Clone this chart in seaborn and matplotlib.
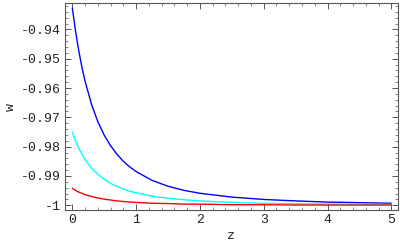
import matplotlib
matplotlib.use("Agg")
import matplotlib.pyplot as plt
import seaborn as sns
import pandas as pd
from matplotlib.ticker import MultipleLocator, FuncFormatter

z = [0, 0.05, 0.1, 0.15, 0.2, 0.3, 0.4, 0.5, 0.6, 0.7, 0.8, 0.9, 1.0, 1.25, 1.5, 1.75,
     2.0, 2.5, 3.0, 3.5, 4.0, 4.5, 5.0]
w_blue = [-0.9327, -0.9406, -0.9472, -0.9529, -0.9577, -0.9655, -0.9715, -0.9761, -0.9797,
          -0.9826, -0.9850, -0.9869, -0.9885, -0.9915, -0.9935, -0.9949, -0.9959, -0.9972,
          -0.9980, -0.9985, -0.9989, -0.9991, -0.9993]
w_cyan = [-0.9751, -0.9780, -0.9805, -0.9826, -0.9844, -0.9873, -0.9894, -0.9911, -0.9925,
          -0.9936, -0.9944, -0.9952, -0.9957, -0.9969, -0.9976, -0.9981, -0.9985, -0.9990,
          -0.9993, -0.9995, -0.9996, -0.9997, -0.9997]
w_red = [-0.9942, -0.9949, -0.9955, -0.9959, -0.9964, -0.9970, -0.9975, -0.9979, -0.9982,
         -0.9985, -0.9987, -0.9989, -0.9990, -0.9993, -0.9994, -0.9996, -0.9996, -0.9998,
         -0.9998, -0.9999, -0.9999, -0.9999, -0.9999]

series = {"blue": w_blue, "cyan": w_cyan, "red": w_red}
df = pd.concat([pd.DataFrame({"z": z, "w": v, "model": k}) for k, v in series.items()],
               ignore_index=True)

sns.set_style("white")
plt.rcParams["font.family"] = ["Liberation Mono", "DejaVu Sans Mono"]
plt.rcParams["axes.unicode_minus"] = False

fig = plt.figure(figsize=(4.0, 2.47), dpi=100)
ax = fig.add_axes([0.1625, 0.1498, 0.8325, 0.838])

palette = {"blue": "#0000ff", "cyan": "#00ffff", "red": "#ff0000"}
sns.lineplot(data=df, x="z", y="w", hue="model", palette=palette, ax=ax,
             linewidth=1.0, legend=False, estimator=None, sort=False)

ax.set_xlim(-0.115, 5.105)
ax.set_ylim(-1.0016, -0.931)

ax.xaxis.set_major_locator(MultipleLocator(1))
ax.xaxis.set_minor_locator(MultipleLocator(0.2))
ax.yaxis.set_major_locator(MultipleLocator(0.01))
ax.yaxis.set_minor_locator(MultipleLocator(0.002))

def fmt_y(v, pos):
    s = f"{v:.2f}"
    if s in ("-1.00", "-1.0"):
        return "-1"
    return s

def fmt_x(v, pos):
    return f"{v:.0f}"

ax.yaxis.set_major_formatter(FuncFormatter(fmt_y))
ax.xaxis.set_major_formatter(FuncFormatter(fmt_x))

frame_col = "#555555"
for sp in ax.spines.values():
    sp.set_color(frame_col)
    sp.set_linewidth(0.8)
    sp.set_visible(True)

ax.tick_params(which="both", direction="in", top=True, right=True, bottom=True, left=True,
               color=frame_col, labelsize=9.5, labelcolor="#222222")
ax.tick_params(which="major", length=4, width=0.7, pad=3)
ax.tick_params(which="minor", length=2, width=0.5)

ax.set_xlabel("z", fontsize=9.5, color="#222222", labelpad=3)
ax.set_ylabel("w", fontsize=9.5, color="#222222")
ax.yaxis.set_label_coords(-0.145, 0.5)

fig.savefig("out.png", dpi=100)
